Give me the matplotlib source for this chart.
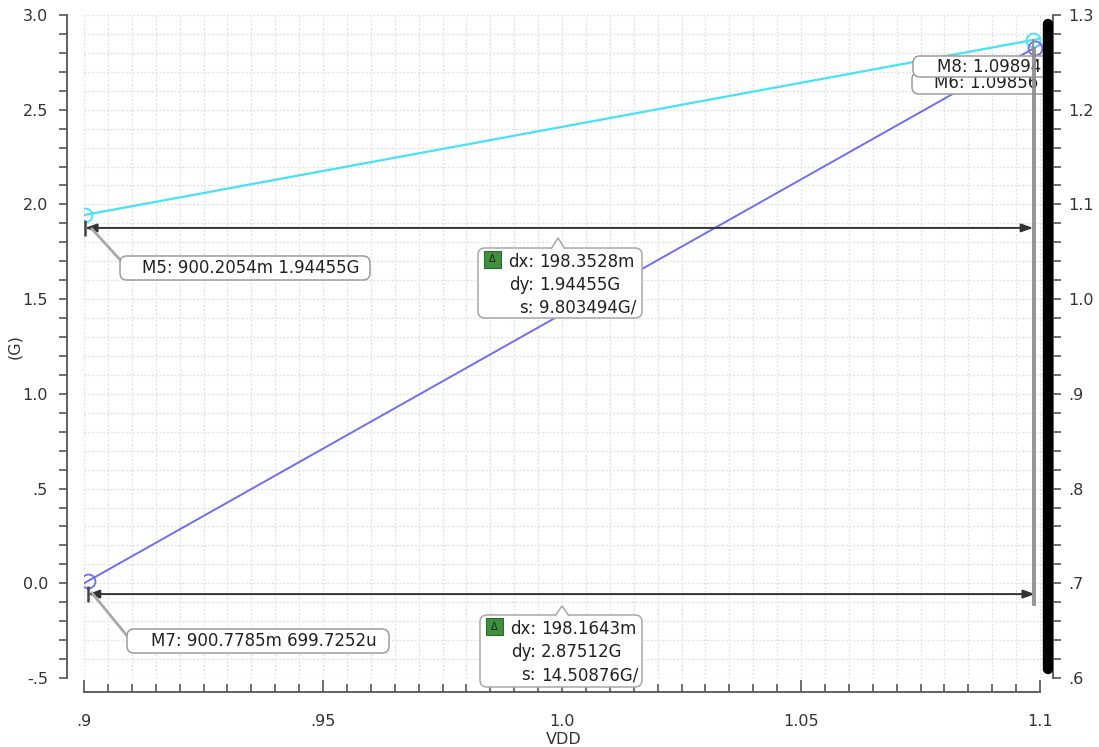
import matplotlib
matplotlib.use('Agg')
import matplotlib.pyplot as plt
import matplotlib.transforms as mtransforms
from matplotlib.patches import FancyBboxPatch, Polygon, Rectangle
from matplotlib.ticker import MultipleLocator, FixedLocator
import numpy as np

W, H, DPI = 1099, 747, 100

# traces vs VDD sweep
vdd = [0.9, 1.1]
cyan_g = [1.9437, 2.875]
blue_g = [0.0, 2.843]
# thick black trace sitting on the right axis
black_vdd = [1.1017, 1.1017]
black_y = [0.61, 1.29]

# markers
marker_x = [0.9002054, 0.9007785, 1.09856, 1.09894]
marker_trace = ['cyan', 'blue', 'cyan', 'blue']
marker_texts = ['M5: 900.2054m 1.94455G', 'M7: 900.7785m 699.7252u',
                'M6: 1.09856', 'M8: 1.09894']

# delta markers (M5->M6, M7->M8)
delta_pairs = [(0, 2), (1, 3)]
delta_levels = [1.876, -0.057]
delta_dx = ['198.3528m', '198.1643m']
delta_dy = ['1.94455G', '2.87512G']
delta_s = ['9.803494G/', '14.50876G/']

left_ticks = [-0.5, 0.0, 0.5, 1.0, 1.5, 2.0, 2.5, 3.0]
left_labels = ['-.5', '0.0', '.5', '1.0', '1.5', '2.0', '2.5', '3.0']
right_ticks = [0.6, 0.7, 0.8, 0.9, 1.0, 1.1, 1.2, 1.3]
right_labels = ['.6', '.7', '.8', '.9', '1.0', '1.1', '1.2', '1.3']
x_ticks = [0.9, 0.95, 1.0, 1.05, 1.1]
x_labels = ['.9', '.95', '1.0', '1.05', '1.1']

colors = {'cyan': '#45e3f3', 'blue': '#6e6ef2'}
traces = {'cyan': cyan_g, 'blue': blue_g}
AX_COL = '#555555'
TXT_COL = '#333333'
FS = 12

fig = plt.figure(figsize=(W / DPI, H / DPI), dpi=DPI)
ax = fig.add_axes([84 / W, 1 - 678 / H, 969 / W, 663 / H])
ax.set_xlim(0.9, 1.1027)
ax.set_ylim(-0.5, 3.0)

# pixel coords (origin top-left) for annotation boxes
pt = mtransforms.Affine2D().scale(1 / W, -1 / H).translate(0, 1) + fig.transFigure

for s in ['top', 'right']:
    ax.spines[s].set_visible(False)
ax.spines['left'].set_position(('outward', 12))
ax.spines['bottom'].set_position(('outward', 10))
ax.spines['bottom'].set_bounds(0.9, 1.1)
for s in ['left', 'bottom']:
    ax.spines[s].set_color(AX_COL)
    ax.spines[s].set_linewidth(1.3)

ax.xaxis.set_major_locator(FixedLocator(x_ticks))
ax.set_xticklabels(x_labels)
ax.xaxis.set_minor_locator(MultipleLocator(0.005))
ax.yaxis.set_major_locator(FixedLocator(left_ticks))
ax.set_yticklabels(left_labels)
ax.yaxis.set_minor_locator(MultipleLocator(0.1))
ax.tick_params(axis='y', which='both', direction='out', length=6, width=1.2,
               color=AX_COL, labelcolor=TXT_COL, labelsize=11.5, pad=8)
ax.tick_params(axis='x', which='major', direction='in', length=9, width=1.2,
               color=AX_COL, labelcolor=TXT_COL, labelsize=11.5, pad=16)
ax.tick_params(axis='x', which='minor', direction='in', length=6, width=1.2,
               color=AX_COL)
ax.grid(which='both', ls=(0, (1.5, 1.5)), color='#e0e0e0', lw=0.9)
ax.set_axisbelow(True)

ax2 = ax.twinx()
ax2.set_ylim(0.6, 1.3)
for s in ['top', 'left', 'bottom']:
    ax2.spines[s].set_visible(False)
ax2.spines['right'].set_color(AX_COL)
ax2.spines['right'].set_linewidth(1.3)
ax2.yaxis.set_major_locator(FixedLocator(right_ticks))
ax2.set_yticklabels(right_labels)
ax2.yaxis.set_minor_locator(MultipleLocator(0.02))
ax2.tick_params(axis='y', which='both', direction='out', length=6, width=1.2,
                color=AX_COL, labelcolor=TXT_COL, labelsize=11.5, pad=5)

# traces
ax.plot(vdd, cyan_g, color=colors['cyan'], lw=1.6, zorder=3)
ax.plot(vdd, blue_g, color=colors['blue'], lw=1.4, zorder=3)
ax2.plot(black_vdd, black_y, color='black', lw=7.5, solid_capstyle='round',
         zorder=10)

marker_y = [float(np.interp(x, vdd, traces[t])) for x, t in zip(marker_x, marker_trace)]
for x, y, t in zip(marker_x, marker_y, marker_trace):
    ax.plot(x, y, 'o', ms=10, mfc='none', mec=colors[t], mew=1.3, zorder=4)

# delta arrows
for (i, j), yl in zip(delta_pairs, delta_levels):
    ax.annotate('', xy=(marker_x[j], yl), xytext=(marker_x[i], yl),
                arrowprops=dict(arrowstyle='<|-|>,head_length=0.7,head_width=0.25',
                                color='#333333', lw=1.4, shrinkA=0, shrinkB=0),
                zorder=5)
    ax.plot(marker_x[i], yl, marker='|', ms=12, mew=1.8, color='#444444', zorder=5)
for j in (2, 3):
    ax.plot([marker_x[j]] * 2, [marker_y[j], delta_levels[1] - 0.06],
            color='#8c8c8c', lw=1.3, zorder=7)


def label_box(x0, y0, w, h, text, tx, z, clip=False):
    box = FancyBboxPatch((x0, y0), w, h, boxstyle='round,pad=0,rounding_size=7',
                         transform=pt, fc='white', ec='#9c9c9c', lw=1.1, zorder=z)
    if clip:
        box.set_clip_box(ax.bbox)
        box.set_clip_on(True)
        ax.add_patch(box)
        ax.text(tx, y0 + h / 2, text, transform=pt, fontsize=FS, color='#222222',
                va='center', ha='left', zorder=z + 0.1, clip_on=True)
    else:
        fig.patches.append(box)
        fig.text(tx, y0 + h / 2, text, transform=pt, fontsize=FS, color='#222222',
                 va='center', ha='left', zorder=z + 0.1)


# leader lines to marker labels
fig.add_artist(plt.Line2D([92, 123], [229, 263], transform=pt, color='#a8a8a8', lw=2, zorder=4))
fig.add_artist(plt.Line2D([92, 128], [593, 637], transform=pt, color='#a8a8a8', lw=2, zorder=4))
label_box(120, 256, 250, 24, marker_texts[0], 142, 5)
label_box(127, 629, 262, 24, marker_texts[1], 151, 5)
label_box(912, 72, 180, 22, marker_texts[2], 934, 5, clip=True)
label_box(913, 56, 180, 21, marker_texts[3], 937, 5.5, clip=True)


def delta_box(left, top, w, h, tip_x, tip_y, dx, dy, sl):
    box = FancyBboxPatch((left, top), w, h, boxstyle='round,pad=0,rounding_size=7',
                         transform=pt, fc='white', ec='#a8a8a8', lw=1.1, zorder=5)
    fig.patches.append(box)
    notch = Polygon([(tip_x - 7, top + 1), (tip_x, tip_y), (tip_x + 7, top + 1)],
                    closed=False, transform=pt, fc='white', ec='#a8a8a8', lw=1.1, zorder=5.2)
    fig.patches.append(notch)
    icon = Rectangle((left + 6, top + 3), 17, 17, transform=pt, fc='#3f8f3f',
                     ec='#2d6b2d', lw=0.8, zorder=5.3)
    fig.patches.append(icon)
    fig.text(left + 14.5, top + 11.5, '\u0394', transform=pt, fontsize=7,
             color='#1a2a1a', ha='center', va='center', zorder=5.4)
    for k, (lab, val) in enumerate(zip(['dx:', 'dy:', 's:'], [dx, dy, sl])):
        yy = top + 14 + k * 23
        fig.text(left + 56, yy, lab, transform=pt, fontsize=FS, color='#222222',
                 ha='right', va='center', zorder=5.4)
        fig.text(left + 61, yy, val, transform=pt, fontsize=FS, color='#222222',
                 ha='left', va='center', zorder=5.4)


delta_box(478, 248, 164, 70, 558, 238, delta_dx[0], delta_dy[0], delta_s[0])
delta_box(480, 615, 162, 72, 562, 606, delta_dx[1], delta_dy[1], delta_s[1])

fig.text(15, 347, '(G)', transform=pt, fontsize=11.5, color=TXT_COL,
         rotation=90, ha='center', va='center')
fig.text(564, 740, 'VDD', transform=pt, fontsize=11.5, color=TXT_COL,
         ha='center', va='center')

fig.savefig('out.png', dpi=DPI)
